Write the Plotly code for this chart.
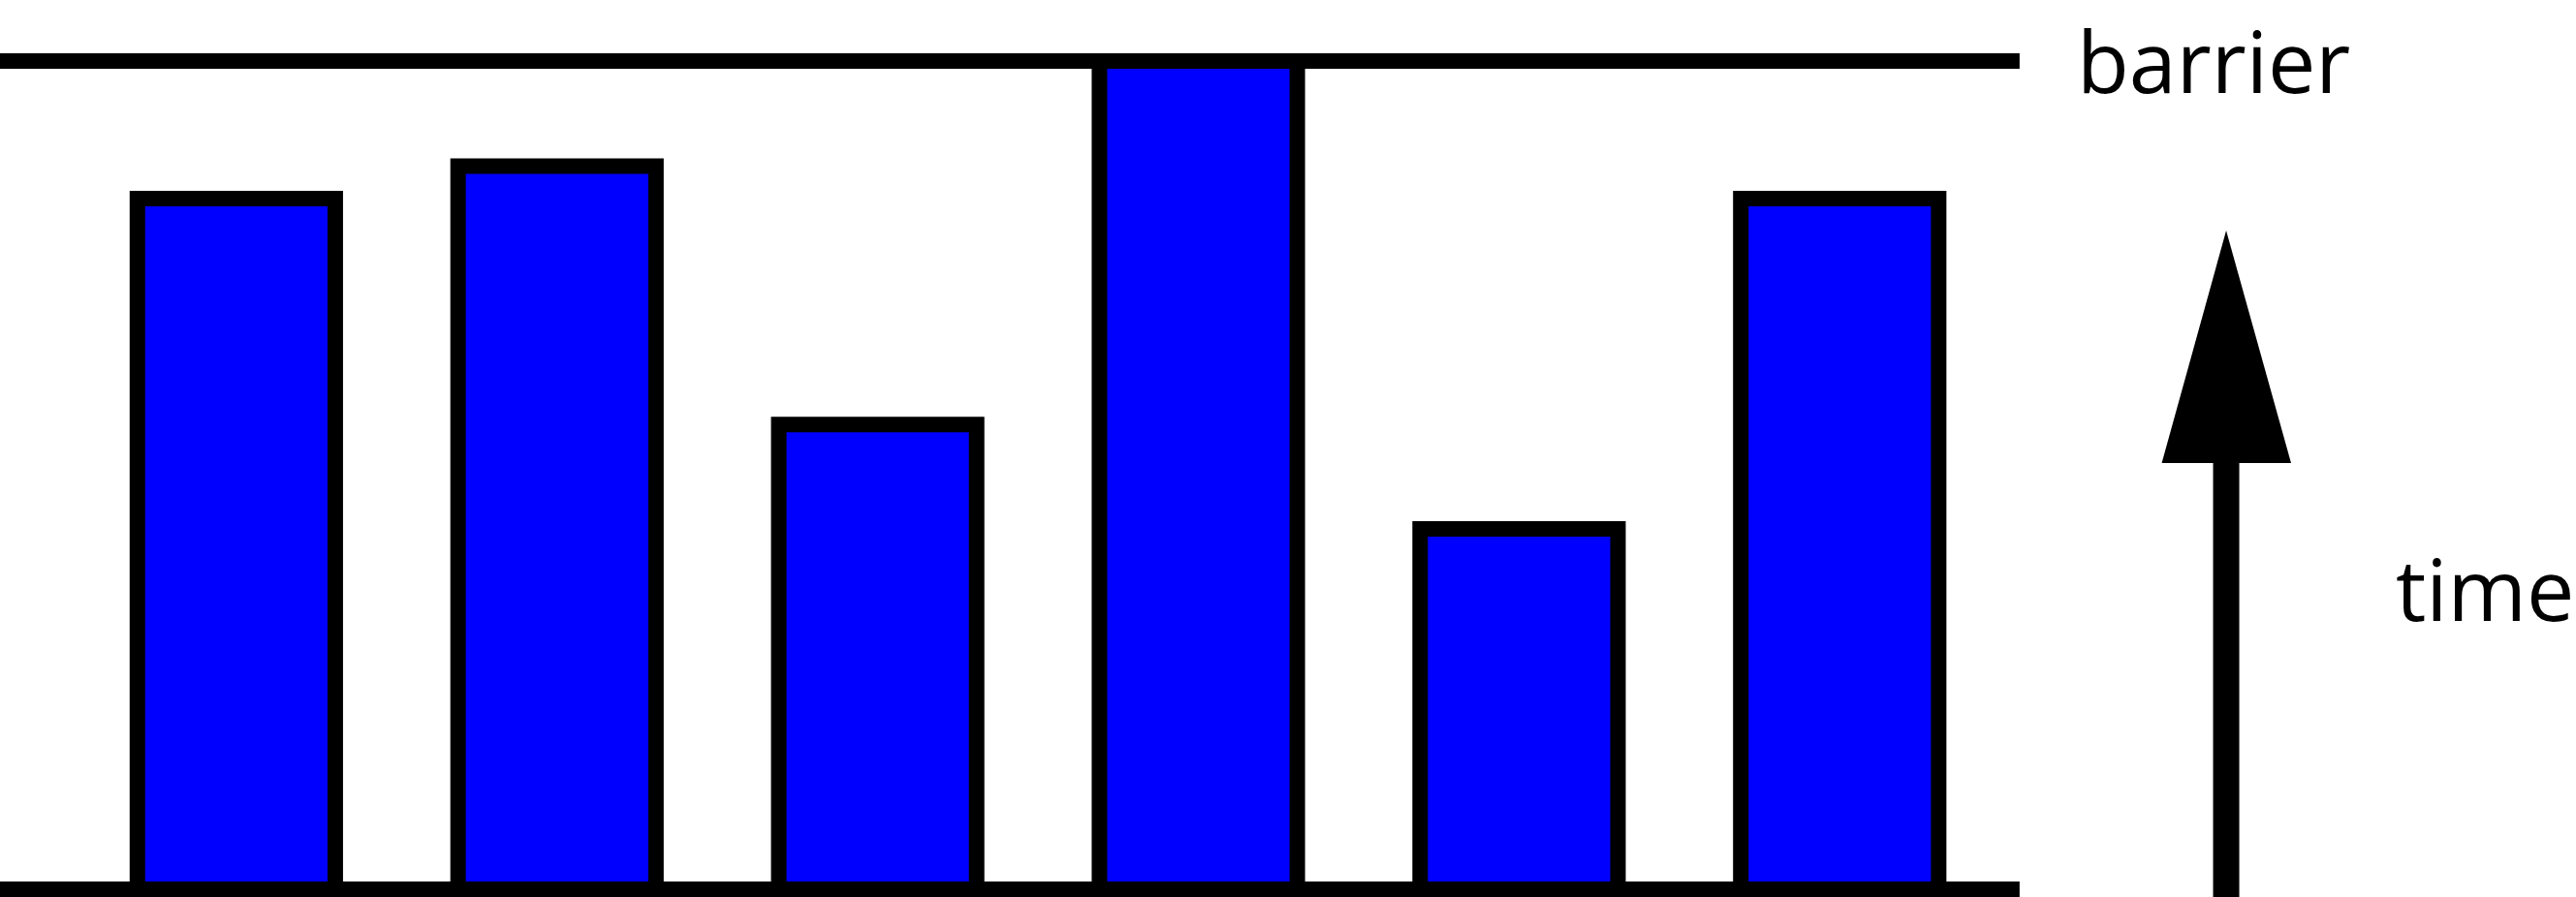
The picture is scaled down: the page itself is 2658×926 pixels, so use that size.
import plotly.graph_objects as go

# bar heights, in the same units as the barrier
labels = ["1", "2", "3", "4", "5", "6"]
heights = [8.34, 8.73, 5.61, 10.0, 4.35, 8.34]
barrier = 10.0

W, H = 2658, 926
STROKE = 16

fig = go.Figure()
fig.add_trace(
    go.Bar(
        x=labels,
        y=heights,
        width=0.617,
        marker=dict(color="#0000ff", line=dict(color="black", width=STROKE)),
        hoverinfo="skip",
    )
)

# barrier line and ground line, both end before the labels
for level in [0, barrier]:
    fig.add_shape(
        type="line",
        xref="paper",
        yref="y",
        x0=0,
        x1=0.784,
        y0=level,
        y1=level,
        line=dict(color="black", width=STROKE),
    )

# time arrow: shaft + head
fig.add_shape(
    type="line",
    xref="paper",
    yref="paper",
    x0=0.8642,
    x1=0.8642,
    y0=0,
    y1=0.485,
    line=dict(color="black", width=27),
)
fig.add_shape(
    type="path",
    xref="paper",
    yref="paper",
    path="M 0.8392,0.4838 L 0.8642,0.743 L 0.8894,0.4838 Z",
    fillcolor="black",
    line=dict(width=0),
)

txt = dict(family="Open Sans, Noto Sans, sans-serif", size=88, color="black")
fig.add_annotation(
    text="barrier", xref="paper", yref="paper", x=0.8055, y=1.0,
    xanchor="left", yanchor="top", showarrow=False, font=txt,
)
fig.add_annotation(
    text="time", xref="paper", yref="paper", x=0.9293, y=0.344,
    xanchor="left", yanchor="middle", showarrow=False, font=txt,
)

fig.update_xaxes(visible=False, type="category", range=[-0.737, 7.296])
fig.update_yaxes(visible=False, range=[-0.0936, 10.737])
fig.update_layout(
    width=W,
    height=H,
    margin=dict(l=0, r=0, t=0, b=0),
    plot_bgcolor="white",
    paper_bgcolor="white",
    showlegend=False,
)
# drop the browser's default body margin so the figure sits at 0,0
fig.write_html(
    "out.html",
    config={"displayModeBar": False},
    post_script="document.body.style.margin='0';",
)
